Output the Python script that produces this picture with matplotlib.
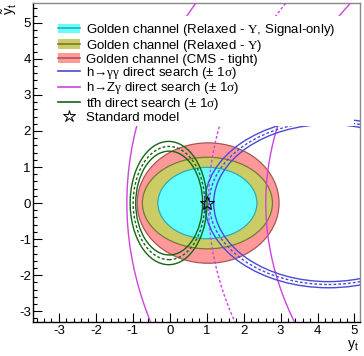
import matplotlib
matplotlib.use("Agg")
import matplotlib.pyplot as plt
from matplotlib.patches import Ellipse, Patch, Rectangle
from matplotlib.lines import Line2D
from matplotlib.ticker import MultipleLocator

plt.rcParams['font.family'] = ['Liberation Sans', 'DejaVu Sans']
plt.rcParams['mathtext.fontset'] = 'custom'
plt.rcParams['mathtext.rm'] = 'Liberation Serif'
plt.rcParams['mathtext.it'] = 'Liberation Serif:italic'
plt.rcParams['mathtext.sf'] = 'Liberation Sans'
plt.rcParams['axes.unicode_minus'] = False

# golden channel regions: centre x, half width, half height
golden_names = ['signal_only', 'relaxed', 'cms_tight']
golden_cx = [1.02, 1.02, 1.04]
golden_a = [1.34, 1.76, 1.92]
golden_b = [0.99, 1.27, 1.67]

# direct searches: (-1 sigma, central, +1 sigma) contours, centred on the y_t axis
gg_cx = [4.3, 4.3, 4.3]
gg_a = [3.35, 3.23, 3.11]
gg_b = [2.35, 2.26, 2.18]

zg_cx = [21.4, 21.4, 21.4]
zg_a = [22.56, 20.35, 18.8]
zg_b = [13.93, 12.56, 11.6]

tth_cx = [-0.03, -0.02, -0.015]
tth_a = [1.04, 0.97, 0.905]
tth_b = [1.71, 1.57, 1.44]

sm_point = (1.0, 0.0)

fill_cols = ['#66ffff', '#cccc66', '#ff9999']
edge_cols = ['#33aaaa', '#777733', '#aa5555']
c_gg = '#4a4ad8'
c_zg = '#cc44dd'
c_tth = '#146614'

fig = plt.figure(figsize=(3.64, 3.56), dpi=100)
ax = fig.add_axes([33 / 364, 1 - 322 / 356, 327 / 364, 319 / 356])

# filled regions, largest first
for i in [2, 1, 0]:
    ax.add_patch(Ellipse((golden_cx[i], 0), 2 * golden_a[i], 2 * golden_b[i],
                         facecolor=fill_cols[i], edgecolor=edge_cols[i],
                         lw=0.9, zorder=1 + (2 - i) * 0.1))

dash = (0, (2.0, 1.5))
for cx, a, b, col in [(zg_cx, zg_a, zg_b, c_zg),
                      (gg_cx, gg_a, gg_b, c_gg),
                      (tth_cx, tth_a, tth_b, c_tth)]:
    for k in range(3):
        ls = dash if k == 1 else '-'
        ax.add_patch(Ellipse((cx[k], 0), 2 * a[k], 2 * b[k], fill=False,
                             edgecolor=col, lw=1.0, ls=ls, zorder=3))

ax.plot([sm_point[0]], [sm_point[1]], marker='*', ms=10, mfc='none',
        mec='black', mew=0.8, ls='none', zorder=6)

ax.set_xlim(-3.7, 5.15)
ax.set_ylim(-3.3, 5.55)
ax.xaxis.set_major_locator(MultipleLocator(1))
ax.xaxis.set_minor_locator(MultipleLocator(0.2))
ax.yaxis.set_major_locator(MultipleLocator(1))
ax.yaxis.set_minor_locator(MultipleLocator(0.2))
ax.tick_params(which='both', direction='in', top=False, right=False,
               labelsize=9.5, width=0.8)
ax.tick_params(which='major', length=6.5)
ax.tick_params(which='minor', length=3.2)
ax.tick_params(axis='y', pad=1.5)
ax.tick_params(axis='x', pad=2.5)
for s in ['top', 'right']:
    ax.spines[s].set_color('#888888')
for s in ax.spines.values():
    s.set_linewidth(1.0)

# legend sits on a white box that hides the curves behind it
ax.add_patch(Rectangle((0.052, 0.614), 0.93, 0.345, transform=ax.transAxes,
                       facecolor='white', edgecolor='none', zorder=4))

labels = [
    'Golden channel (Relaxed - $\\mathrm{\\Upsilon}$, Signal-only)',
    'Golden channel (Relaxed - $\\mathrm{\\Upsilon}$)',
    'Golden channel (CMS - tight)',
    'h\u2192$\\mathrm{\\gamma\\gamma}$ direct search (\u00b1 1$\\mathrm{\\sigma}$)',
    'h\u2192Z$\\mathrm{\\gamma}$ direct search (\u00b1 1$\\mathrm{\\sigma}$)',
    'tt\u0304h direct search (\u00b1 1$\\mathrm{\\sigma}$)',
    'Standard model',
]
handles = [(Patch(facecolor=fill_cols[i], edgecolor='none'),
            Line2D([], [], color=edge_cols[i], lw=1.2)) for i in range(3)]
handles += [Line2D([], [], color=c_gg, lw=1.2),
            Line2D([], [], color=c_zg, lw=1.2),
            Line2D([], [], color=c_tth, lw=1.2),
            Line2D([], [], marker='*', ms=9, mfc='none', mec='black',
                   mew=0.7, ls='none')]
leg = ax.legend(handles, labels, loc='upper left',
                bbox_to_anchor=(0.0765, 0.94), frameon=False, fontsize=9.5,
                borderpad=0, borderaxespad=0, handlelength=1.7,
                handletextpad=0.45, labelspacing=-0.04, handleheight=0.75)
leg.set_zorder(5)

fig.text(353 / 364, 1 - 338 / 356, '$\\mathregular{y_t}$', fontsize=10,
         ha='center', va='top')
fig.text(10 / 364, 1 - 3 / 356, '$\\mathregular{\\tilde{y}_t}$', fontsize=10,
         ha='center', va='top', rotation=90)

fig.savefig('out.png', dpi=100)
